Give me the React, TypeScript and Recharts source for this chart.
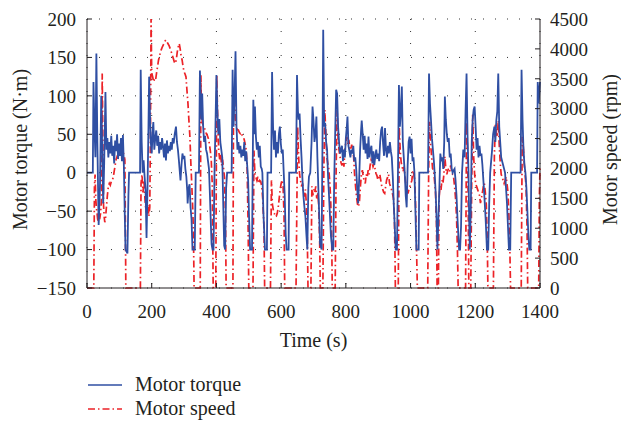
import { LineChart, Line, XAxis, YAxis, CartesianGrid } from 'recharts';

// [time (s), torque (N·m)]
const torqueSamples: [number, number][] = [
  [0, 0], [18, 0], [20, 118], [23, 60], [26, 20], [29, 155], [32, 40], [36, -68], [40, -20], [44, 100],
  [47, 30], [50, -40], [53, 10], [57, 105], [60, 30], [63, 45], [66, 20], [69, 40], [72, 25], [75, 48],
  [78, 22], [81, 35], [84, 12], [87, 42], [90, 28], [93, 50], [96, 18], [99, 38], [102, 22], [105, 45],
  [108, 15], [111, 49], [114, 8], [117, -60], [119, -100], [125, -105], [128, -30], [130, 0], [164, 0], [166, 134],
  [169, 40], [172, 0], [175, 16], [178, -5], [181, -23], [184, -85], [187, -20], [190, 60], [192, 125], [195, 70],
  [197, 40], [200, 25], [203, 55], [205, 66], [208, 30], [211, 45], [214, 55], [217, 35], [220, 48], [223, 25],
  [226, 40], [229, 30], [232, 45], [235, 34], [238, 20], [241, 38], [244, 16], [247, 42], [250, 25], [253, 35],
  [256, 28], [259, 40], [262, 30], [265, 45], [268, 38], [271, 50], [275, 60], [278, 40], [281, 30], [284, 16],
  [287, 0], [289, -10], [292, 10], [295, 25], [298, 18], [301, 22], [304, 5], [307, -5], [310, -25], [311, -40],
  [314, -20], [317, -15], [320, -45], [323, -60], [326, -100], [333, -100], [336, 0], [346, 0], [349, 133], [352, 90],
  [354, 69], [356, 103], [359, 60], [362, 40], [365, 48], [368, 30], [371, 25], [374, 15], [377, 5], [380, -30],
  [383, -70], [385, -93], [388, -100], [391, -100], [394, 0], [397, 60], [400, 127], [403, 80], [406, 50], [409, 70],
  [412, 40], [415, 30], [418, 20], [421, -40], [424, -95], [427, -100], [430, -20], [433, 0], [447, 0], [450, 134],
  [453, 60], [456, 100], [459, 158], [462, 60], [465, 30], [468, 40], [471, 25], [474, 35], [477, 20], [480, 30],
  [483, 22], [486, 40], [489, 15], [492, 28], [495, 10], [498, -10], [501, -60], [504, -100], [510, -100], [512, 0],
  [514, 95], [517, 50], [519, 86], [522, 47], [525, 30], [528, 40], [531, 20], [534, 35], [537, 8], [540, 5],
  [542, 0], [545, -50], [550, -100], [556, -100], [558, 0], [569, 0], [572, 131], [575, 60], [578, 30], [581, 55],
  [584, 20], [587, 40], [590, 25], [593, 50], [596, 60], [599, 38], [602, 25], [605, 30], [608, 0], [611, -30],
  [614, -80], [617, -100], [623, -100], [625, 0], [646, 0], [649, 127], [652, 80], [654, 69], [657, 77], [660, 45],
  [663, 20], [666, -10], [669, -31], [672, -45], [675, -57], [678, -80], [681, -100], [684, -20], [686, -5], [690, 0],
  [694, 40], [697, 86], [700, 68], [703, 40], [706, 50], [709, 73], [712, 20], [715, -20], [718, -60], [720, -92],
  [725, -100], [728, 50], [730, 186], [733, 60], [736, 65], [739, 40], [742, 30], [745, -5], [748, -30], [751, -57],
  [754, -83], [758, -100], [761, -100], [764, -10], [767, 50], [770, 108], [773, 103], [776, 60], [779, 40], [782, 25],
  [785, 30], [788, 35], [791, 15], [794, 30], [797, 20], [800, 45], [803, 60], [805, 73], [808, 35], [811, 28],
  [814, 20], [817, 30], [820, 25], [823, 35], [826, 15], [829, 20], [832, 5], [835, -20], [838, -40], [841, -10],
  [844, 30], [847, 55], [849, 68], [852, 50], [855, 30], [858, 48], [861, 25], [864, 38], [867, 18], [870, 47],
  [873, 20], [876, 30], [879, 35], [882, 12], [885, 28], [888, 10], [891, 22], [894, 30], [897, 18], [900, 25],
  [903, 15], [906, 40], [909, 55], [912, 60], [915, 38], [918, 22], [921, 58], [924, 30], [927, 20], [930, 35],
  [933, 25], [936, 40], [939, 28], [942, 20], [945, -5], [948, -40], [951, -70], [954, -100], [958, -100], [961, 0],
  [964, 114], [967, 60], [970, 80], [973, 112], [976, 40], [979, 20], [982, 0], [985, -30], [988, -45], [991, 10],
  [994, 40], [997, 47], [1000, 25], [1003, 44], [1006, 15], [1009, 20], [1012, 0], [1015, -50], [1018, -100], [1025, -100],
  [1027, 0], [1054, 0], [1057, 129], [1060, 90], [1063, 69], [1066, 45], [1069, 30], [1072, 15], [1075, -5], [1078, -30],
  [1081, -70], [1083, -100], [1086, -60], [1089, -20], [1092, 25], [1095, 15], [1098, 20], [1101, 5], [1104, 40], [1106, 99],
  [1109, 69], [1112, 50], [1115, 40], [1118, 45], [1121, 20], [1124, 25], [1127, 5], [1130, 0], [1133, 3], [1136, 5],
  [1139, -10], [1142, -30], [1145, -60], [1150, -100], [1153, -100], [1156, -70], [1159, 0], [1163, 30], [1167, 20], [1170, 80],
  [1173, 129], [1176, 50], [1179, 0], [1181, -60], [1183, -100], [1186, -50], [1189, 40], [1192, 70], [1195, 82], [1198, 86],
  [1201, 60], [1204, 30], [1207, 45], [1210, 20], [1213, 35], [1216, 22], [1219, 25], [1222, 10], [1225, -10], [1228, -30],
  [1232, -60], [1236, -100], [1240, -100], [1243, -40], [1246, 0], [1249, 15], [1252, 30], [1255, 50], [1259, 60], [1262, 40],
  [1265, 68], [1268, 80], [1271, 129], [1274, 60], [1277, 40], [1280, 20], [1283, 15], [1286, 10], [1289, 5], [1292, 0],
  [1295, -20], [1298, -40], [1301, -70], [1304, -100], [1308, -100], [1311, 0], [1340, 0], [1343, 134], [1346, 69], [1349, 30],
  [1352, 10], [1355, 0], [1358, -20], [1361, -50], [1364, -80], [1367, -100], [1371, -100], [1373, 0], [1391, 0], [1393, 118],
  [1396, 90], [1400, 118],
];

// [time (s), speed (rpm)]
const speedSamples: [number, number][] = [
  [0, 0], [21, 0], [23, 1700], [25, 1900], [27, 1500], [29, 1350], [31, 1250], [33, 1150], [35, 1100], [37, 1300],
  [39, 1150], [42, 1250], [45, 1500], [47, 3590], [49, 2500], [51, 1400], [53, 1200], [55, 1100], [57, 1150], [60, 1350],
  [63, 1550], [66, 1700], [69, 1750], [72, 1720], [75, 1780], [78, 1800], [81, 1850], [84, 1950], [87, 2050], [90, 2150],
  [93, 2200], [96, 2180], [99, 2250], [102, 2220], [105, 2260], [108, 2200], [111, 2280], [114, 2230], [117, 2150], [119, 800],
  [120, 0], [165, 0], [167, 1750], [170, 1900], [173, 1600], [176, 1800], [179, 1500], [182, 1300], [185, 1250], [188, 1400],
  [191, 1200], [194, 1350], [196, 2500], [198, 4500], [200, 3600], [203, 3530], [206, 3450], [209, 3500], [212, 3480], [215, 3600],
  [218, 3700], [221, 3810], [225, 3900], [229, 3980], [233, 4035], [237, 4080], [241, 4130], [244, 4150], [247, 4120], [250, 4090],
  [254, 4050], [258, 3990], [262, 3925], [266, 3850], [270, 3780], [273, 3757], [276, 3820], [279, 3950], [282, 4035], [285, 4090],
  [288, 4000], [291, 3880], [294, 3810], [297, 3700], [300, 3618], [303, 3580], [306, 3530], [309, 3300], [312, 3088], [315, 2800],
  [318, 2530], [321, 2085], [324, 1700], [327, 1300], [329, 900], [331, 0], [350, 0], [352, 3560], [354, 2900], [357, 2750],
  [360, 2700], [363, 2680], [366, 2620], [369, 2580], [372, 2550], [375, 2500], [378, 2420], [381, 2300], [384, 2140], [387, 1750],
  [389, 600], [390, 0], [398, 0], [401, 3560], [404, 2800], [407, 2300], [410, 2150], [413, 2250], [416, 2050], [419, 2150],
  [422, 2000], [425, 1850], [428, 1200], [430, 0], [451, 0], [453, 3340], [456, 3200], [459, 2800], [462, 2670], [465, 2650],
  [468, 2640], [471, 2600], [474, 2580], [477, 2600], [480, 2550], [483, 2530], [486, 2480], [489, 2400], [492, 2308], [495, 2000],
  [498, 1000], [500, 0], [513, 0], [516, 2300], [519, 1900], [522, 1850], [525, 1800], [528, 1860], [531, 1750], [534, 1800],
  [537, 1780], [540, 1700], [543, 1500], [547, 1000], [549, 0], [567, 0], [570, 1800], [573, 1400], [576, 1300], [579, 1250],
  [582, 1190], [585, 1200], [588, 1250], [591, 1350], [594, 1500], [597, 1650], [600, 1750], [603, 1806], [606, 1700], [609, 1200],
  [611, 0], [646, 0], [651, 2700], [654, 2200], [657, 1900], [660, 1800], [663, 1700], [666, 1750], [669, 1600], [672, 1530],
  [675, 1650], [678, 1400], [681, 800], [683, 0], [692, 0], [695, 1700], [698, 1550], [701, 1650], [704, 1600], [707, 1700],
  [710, 1500], [713, 1600], [716, 1400], [719, 800], [721, 0], [729, 0], [732, 2000], [735, 2977], [738, 2600], [741, 2200],
  [744, 2085], [747, 2000], [750, 1800], [753, 1500], [756, 900], [758, 0], [767, 0], [770, 2000], [773, 2977], [776, 2500],
  [779, 2300], [782, 2196], [785, 2100], [788, 2050], [791, 2150], [794, 2030], [797, 2300], [800, 2450], [803, 2530], [806, 2400],
  [809, 2480], [812, 2350], [815, 2308], [818, 2400], [821, 2300], [824, 2200], [827, 1900], [830, 1700], [833, 1527], [836, 1400],
  [839, 1360], [842, 1450], [845, 1700], [848, 1900], [851, 1970], [854, 1850], [857, 1800], [860, 1750], [863, 1900], [866, 1850],
  [869, 1970], [872, 1900], [875, 2050], [878, 2140], [881, 2100], [884, 2030], [887, 2080], [890, 2000], [893, 1920], [896, 1880],
  [899, 1806], [902, 1850], [905, 1900], [908, 1800], [911, 1700], [914, 1650], [917, 1600], [920, 1583], [923, 1700], [926, 1806],
  [929, 1850], [932, 1900], [935, 1750], [938, 1700], [941, 1650], [944, 1583], [947, 1500], [950, 1200], [952, 500], [953, 0],
  [962, 0], [965, 2700], [968, 2300], [971, 2100], [974, 2030], [977, 1950], [980, 2030], [983, 1850], [986, 1700], [989, 1650],
  [992, 1580], [995, 1650], [998, 1700], [1001, 1750], [1004, 1800], [1007, 1970], [1010, 1900], [1013, 1800], [1016, 1300], [1019, 500],
  [1021, 0], [1053, 0], [1056, 2000], [1059, 2780], [1062, 2400], [1065, 2200], [1068, 2000], [1071, 1970], [1074, 1800], [1077, 1600],
  [1080, 1100], [1082, 0], [1086, 0], [1088, 1500], [1091, 1700], [1094, 1640], [1097, 1806], [1100, 1750], [1103, 1900], [1106, 2200],
  [1109, 2000], [1112, 1900], [1115, 1970], [1118, 2000], [1121, 1950], [1124, 2050], [1127, 1970], [1130, 1900], [1133, 1850], [1136, 1700],
  [1139, 1500], [1142, 1200], [1145, 600], [1147, 0], [1170, 0], [1173, 2780], [1176, 2300], [1178, 1500], [1180, 0], [1186, 0],
  [1189, 1800], [1192, 2900], [1195, 2200], [1198, 1900], [1201, 1750], [1204, 1700], [1207, 1650], [1210, 1600], [1213, 1550], [1216, 1420],
  [1219, 1500], [1222, 1600], [1225, 1700], [1228, 1750], [1231, 1600], [1234, 1400], [1237, 800], [1239, 0], [1256, 0], [1259, 2200],
  [1262, 2750], [1265, 2600], [1268, 2530], [1271, 2800], [1274, 2400], [1277, 2100], [1280, 1900], [1283, 1860], [1286, 1800], [1289, 1750],
  [1292, 1800], [1295, 1860], [1298, 1750], [1301, 1600], [1304, 1200], [1307, 600], [1309, 0], [1342, 0], [1345, 2530], [1348, 2400],
  [1351, 2100], [1354, 1900], [1357, 1700], [1360, 1000], [1362, 0], [1396, 0], [1398, 1500], [1400, 2000],
];

const timeTicks = [0, 200, 400, 600, 800, 1000, 1200, 1400];
const torqueTicks = [-150, -100, -50, 0, 50, 100, 150, 200];
const speedTicks = [0, 500, 1000, 1500, 2000, 2500, 3000, 3500, 4000, 4500];

const torqueData = torqueSamples.map(([t, v]) => ({ t, torque: v }));
const speedData = speedSamples.map(([t, v]) => ({ t, speed: v }));

const BLUE = '#2f4fa3';
const RED = '#ec2227';
const FONT = '"Liberation Serif", "Times New Roman", serif';
const INK = '#231f20';

const tickStyle = { fill: INK, fontSize: 19, fontFamily: FONT };
const labelStyle = { fill: INK, fontSize: 20, fontFamily: FONT, textAnchor: 'middle' as const };
const minus = (v: number) => String(v).replace('-', '\u2212');

export default function App() {
  return (
    <div style={{ position: 'absolute', left: 0, top: 0, width: 621, height: 423, background: '#fff' }}>
      <LineChart width={621} height={423} margin={{ top: 19, right: 0, bottom: 75, left: 0 }}>
        <CartesianGrid
          xAxisId="bottom"
          yAxisId="left"
          stroke="#333"
          strokeDasharray="1 11"
          horizontalValues={torqueTicks}
          verticalValues={timeTicks}
        />
        <XAxis
          xAxisId="bottom"
          dataKey="t"
          type="number"
          domain={[0, 1400]}
          ticks={timeTicks}
          height={60}
          stroke={INK}
          tickSize={-5}
          tickMargin={22}
          tick={tickStyle}
          label={{ value: 'Time (s)', position: 'insideBottom', offset: 1, style: labelStyle }}
        />
        <XAxis
          xAxisId="top"
          orientation="top"
          dataKey="t"
          type="number"
          domain={[0, 1400]}
          ticks={timeTicks}
          height={0}
          stroke={INK}
          tickSize={-5}
          tick={false}
        />
        <YAxis
          yAxisId="left"
          domain={[-150, 200]}
          ticks={torqueTicks}
          width={87}
          stroke={INK}
          tickSize={-5}
          tickMargin={16}
          tick={tickStyle}
          tickFormatter={minus}
          label={{ value: 'Motor torque (N\u00b7m)', angle: -90, position: 'insideLeft', offset: 20, dy: -4, style: labelStyle }}
        />
        <YAxis
          yAxisId="right"
          orientation="right"
          domain={[0, 4500]}
          ticks={speedTicks}
          width={81}
          stroke={INK}
          tickSize={-5}
          tickMargin={15}
          tick={{ ...tickStyle, textAnchor: 'start' }}
          label={{ value: 'Motor speed (rpm)', angle: -90, position: 'insideRight', offset: 11, dy: -4, style: labelStyle }}
        />
        <Line
          xAxisId="bottom"
          yAxisId="right"
          data={speedData}
          dataKey="speed"
          type="linear"
          stroke={RED}
          strokeWidth={1.7}
          strokeDasharray="7 3 1.5 3"
          dot={false}
          isAnimationActive={false}
        />
        <Line
          xAxisId="bottom"
          yAxisId="left"
          data={torqueData}
          dataKey="torque"
          type="linear"
          stroke={BLUE}
          strokeWidth={1.8}
          dot={false}
          isAnimationActive={false}
        />
      </LineChart>
      <svg width={621} height={423} style={{ position: 'absolute', left: 0, top: 0, pointerEvents: 'none' }}>
        <line x1={88} x2={122} y1={385} y2={385} stroke={BLUE} strokeWidth={1.5} />
        <text x={135} y={391} fontSize={20} fontFamily={FONT} fill={INK}>Motor torque</text>
        <line x1={88} x2={122} y1={409} y2={409} stroke={RED} strokeWidth={1.4} strokeDasharray="7 3 1.5 3" />
        <text x={135} y={415} fontSize={20} fontFamily={FONT} fill={INK}>Motor speed</text>
      </svg>
    </div>
  );
}
